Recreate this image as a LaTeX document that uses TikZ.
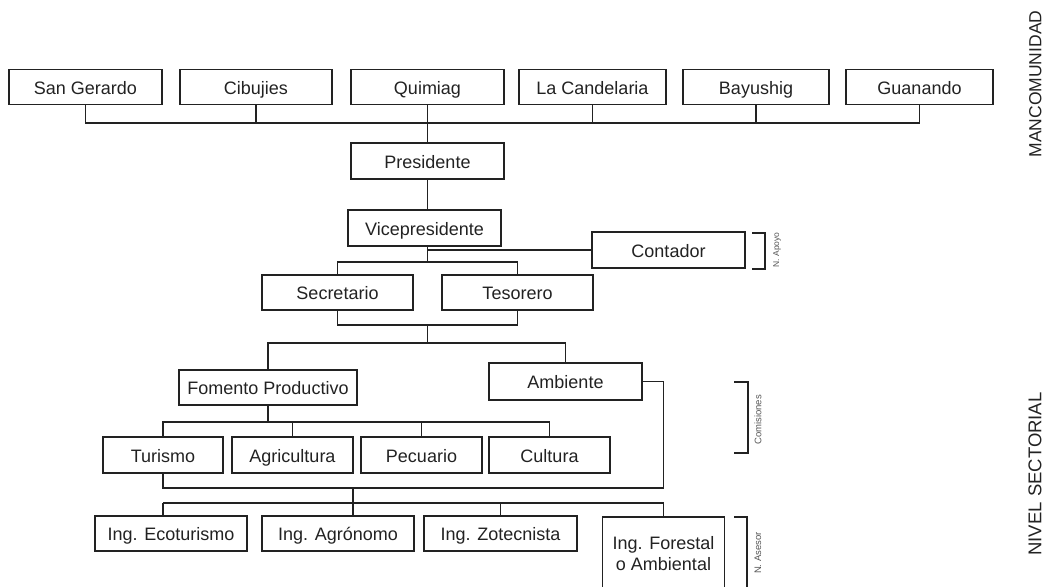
\documentclass[tikz,border=0pt]{standalone}
\usepackage{fontspec}
\setmainfont{Liberation Sans}
\definecolor{ink}{HTML}{222222}
\definecolor{soft}{HTML}{555555}
\begin{document}
\begin{tikzpicture}[x=1pt,y=-1pt,
  basebox/.style={draw=ink, line width=1.4pt, minimum height=35pt, inner sep=0pt,
    font=\fontsize{18}{21}\selectfont, text=ink},
  box/.style={basebox, text height=14.5pt, text depth=0pt},
  wire/.style={draw=ink, line width=1.4pt},
  brk/.style={draw=ink, line width=1.4pt},
  tag/.style={rotate=90, text=ink, inner sep=0pt, text height=12.5pt, text depth=0pt},
  smalltag/.style={rotate=90, text=soft, inner sep=0pt}
]
\useasboundingbox (0,0) rectangle (1046,586);
\clip (0,0) rectangle (1046,586);

% top row
\node[box, minimum width=153pt] (sg)  at (85.5,87)  {San Gerardo};
\node[box, minimum width=152pt] (cib) at (256,87)   {Cibujies};
\node[box, minimum width=153pt] (qui) at (427.5,87) {Quimiag};
\node[box, minimum width=147pt] (lc)  at (592.5,87) {La Candelaria};
\node[box, minimum width=146pt] (bay) at (756,87)   {Bayushig};
\node[box, minimum width=147pt] (gua) at (919.5,87) {Guanando};

\node[box, minimum width=153pt, minimum height=36pt] (pres) at (427.5,161) {Presidente};
\node[box, minimum width=153pt, minimum height=36pt] (vice) at (424.5,228) {Vicepresidente};
\node[box, minimum width=153pt, minimum height=36pt] (cont) at (668.5,250) {Contador};
\node[box, minimum width=151pt] (sec) at (337.5,292.5) {Secretario};
\node[box, minimum width=151pt] (tes) at (517.5,292.5) {Tesorero};

\node[box, minimum width=178pt] (fom) at (268,387.5) {Fomento Productivo};
\node[box, minimum width=153pt, minimum height=37pt] (amb) at (565.5,381.5) {Ambiente};

\node[box, minimum width=120pt, minimum height=36pt] (tur) at (163,455)   {Turismo};
\node[box, minimum width=121pt, minimum height=36pt] (agr) at (292.5,455) {Agricultura};
\node[box, minimum width=121pt, minimum height=36pt] (pec) at (421.5,455) {Pecuario};
\node[box, minimum width=121pt, minimum height=36pt] (cul) at (549.5,455) {Cultura};

\node[box, minimum width=152pt] (eco)  at (171,533.5)   {Ing. Ecoturismo};
\node[box, minimum width=152pt] (agro) at (338,533.5)   {Ing. Agrónomo};
\node[box, minimum width=153pt] (zot)  at (500.5,533.5) {Ing. Zotecnista};
\node[basebox, minimum width=122pt, minimum height=74pt, align=center] (fore) at (663.5,554)
  {Ing. Forestal\\o Ambiental};

% connectors: top bus
\coordinate (b1) at (427.5,123);
\draw[wire] (sg.south) |- (b1) -| (gua.south);
\foreach \n in {cib,lc,bay} \draw[wire] (\n.south) -- (\n.south |- b1);
\draw[wire] (qui.south) -- (pres.north);
\draw[wire] (pres.south) -- (pres.south |- vice.north);

% vice to secretario / tesorero / contador
\coordinate (b2) at (427.5,262);
\draw[wire] (pres.south |- vice.south) -- (b2);
\draw[wire] (b2 |- cont.west) -- (cont.west);
\draw[wire] (sec.north) |- (b2) -| (tes.north);
\coordinate (b3) at (427.5,325);
\coordinate (b4) at (427.5,343);
\draw[wire] (sec.south) |- (b3) -| (tes.south);
\draw[wire] (b3) -- (b4);
\draw[wire] (fom.north) |- (b4) -| (amb.north);

% comisiones
\coordinate (b5) at (268,422);
\draw[wire] (fom.south) -- (b5);
\draw[wire] (tur.north) |- (b5) -| (cul.north);
\foreach \n in {agr,pec} \draw[wire] (\n.north) -- (\n.north |- b5);

% asesores
\coordinate (ac) at (663.5,488);
\coordinate (b6) at (353,488);
\coordinate (b7) at (353,503);
\draw[wire] (amb.east) -| (ac) -| (tur.south);
\draw[wire] (b6) -- (b6 |- agro.north);
\draw[wire] (tur.south |- b7) -- (ac |- b7);
\draw[wire] (tur.south |- b7) -- (tur.south |- eco.north);
\draw[wire] (zot.north) -- (zot.north |- b7);
\draw[wire] (fore.north) -- (fore.north |- b7);

% brackets
\draw[brk] (752,233) -- (765,233) -- (765,269) -- (752,269);
\draw[brk] (734,382) -- (748,382) -- (748,453) -- (734,453);
\draw[brk] (734,517) -- (747,517) -- (747,600);

% side labels
\node[smalltag, font=\fontsize{8.5}{10}\selectfont] (apoyo) at (777,250) {N. Apoyo};
\node[smalltag, font=\fontsize{9.5}{11}\selectfont] (comis) at (758,420) {Comisiones};
\node[smalltag, font=\fontsize{9.5}{11}\selectfont] (aseso) at (758,553) {N. Asesor};
\node[tag, font=\fontsize{17.5}{20}\selectfont] (manc) at (1035,84) {MANCOMUNIDAD};
\node[tag, font=\fontsize{18.5}{20}\selectfont] (nivel) at (1035,474) {NIVEL SECTORIAL};
\end{tikzpicture}
\end{document}
